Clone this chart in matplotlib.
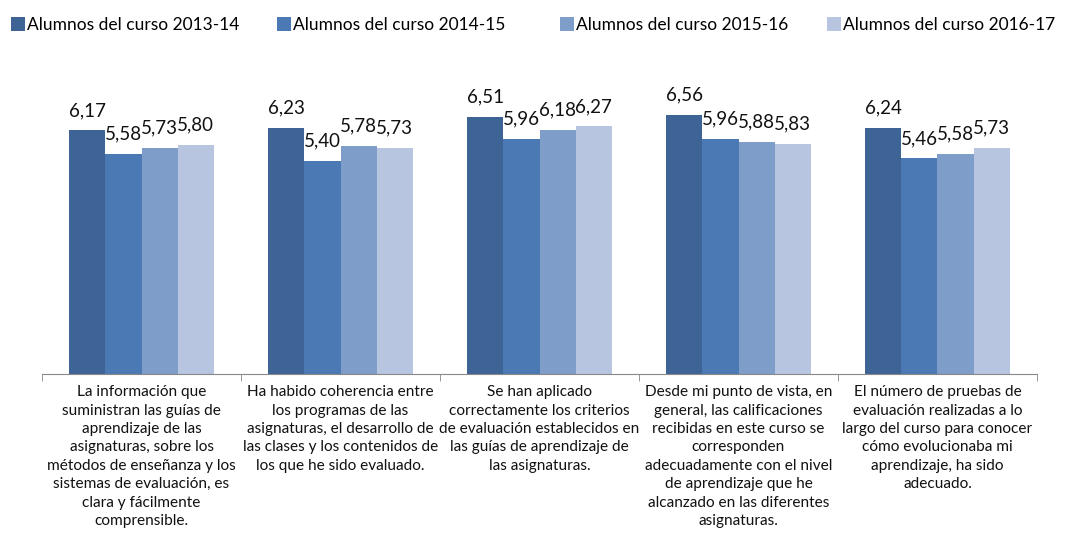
import numpy as np
import matplotlib.pyplot as plt

# datos de la encuesta
series = ["Alumnos del curso 2013-14", "Alumnos del curso 2014-15",
          "Alumnos del curso 2015-16", "Alumnos del curso 2016-17"]
v_1314 = [6.17, 6.23, 6.51, 6.56, 6.24]
v_1415 = [5.58, 5.40, 5.96, 5.96, 5.46]
v_1516 = [5.73, 5.78, 6.18, 5.88, 5.58]
v_1617 = [5.80, 5.73, 6.27, 5.83, 5.73]
categorias = [
    "La información que\nsuministran las guías de\naprendizaje de las\nasignaturas, sobre los\nmétodos de enseñanza y los\nsistemas de evaluación, es\nclara y fácilmente\ncomprensible.",
    "Ha habido coherencia entre\nlos programas de las\nasignaturas, el desarrollo de\nlas clases y los contenidos de\nlos que he sido evaluado.",
    "Se han aplicado\ncorrectamente los criterios\nde evaluación establecidos en\nlas guías de aprendizaje de\nlas asignaturas.",
    "Desde mi punto de vista, en\ngeneral, las calificaciones\nrecibidas en este curso se\ncorresponden\nadecuadamente con el nivel\nde aprendizaje que he\nalcanzado en las diferentes\nasignaturas.",
    "El número de pruebas de\nevaluación realizadas a lo\nlargo del curso para conocer\ncómo evolucionaba mi\naprendizaje, ha sido\nadecuado.",
]
colores = ["#3E6496", "#4A79B3", "#7F9DC9", "#B7C5E0"]

plt.rcParams['font.family'] = ['Lato', 'DejaVu Sans']

fig = plt.figure(figsize=(10.75, 5.42), dpi=100)
ax = fig.add_axes([42/1075, 1 - 374/542, 995/1075, 8*39.5/542])

x = np.arange(len(categorias))
w = 0.181
valores = [v_1314, v_1415, v_1516, v_1617]
handles = []
for i, (vals, col) in enumerate(zip(valores, colores)):
    pos = x + (i - 1.5) * w
    b = ax.bar(pos, vals, width=w, color=col, label=series[i], zorder=2)
    handles.append(b)
    for p, v in zip(pos, vals):
        ax.text(p, v + 0.28, f"{v:.2f}".replace(".", ","), ha="center", va="bottom",
                fontsize=13.5, color="#111111")

ax.set_xlim(-0.5, 4.5)
ax.set_ylim(0, 8)
for s in ["top", "right", "left"]:
    ax.spines[s].set_visible(False)
ax.spines["bottom"].set_color("#888888")
ax.set_yticks([])
ax.set_xticks(x)
ax.set_xticklabels(categorias, fontsize=11.1, color="#111111", linespacing=1.4)
ax.tick_params(axis="x", which="major", length=0, pad=8)
ax.set_xticks(np.arange(-0.5, 5, 1), minor=True)
ax.tick_params(axis="x", which="minor", length=5, color="#888888")

# leyenda: una entrada por posición, como en el original
leg_x = [11, 277, 560, 827]
for h, lx in zip(handles, leg_x):
    lg = fig.legend(handles=[h], loc="center left", bbox_to_anchor=(lx/1075, 1 - 25/542),
                    frameon=False, fontsize=12.5, handlelength=0.8, handleheight=0.8,
                    handletextpad=0.15, borderpad=0, borderaxespad=0)

fig.savefig("out.png", dpi=100)
